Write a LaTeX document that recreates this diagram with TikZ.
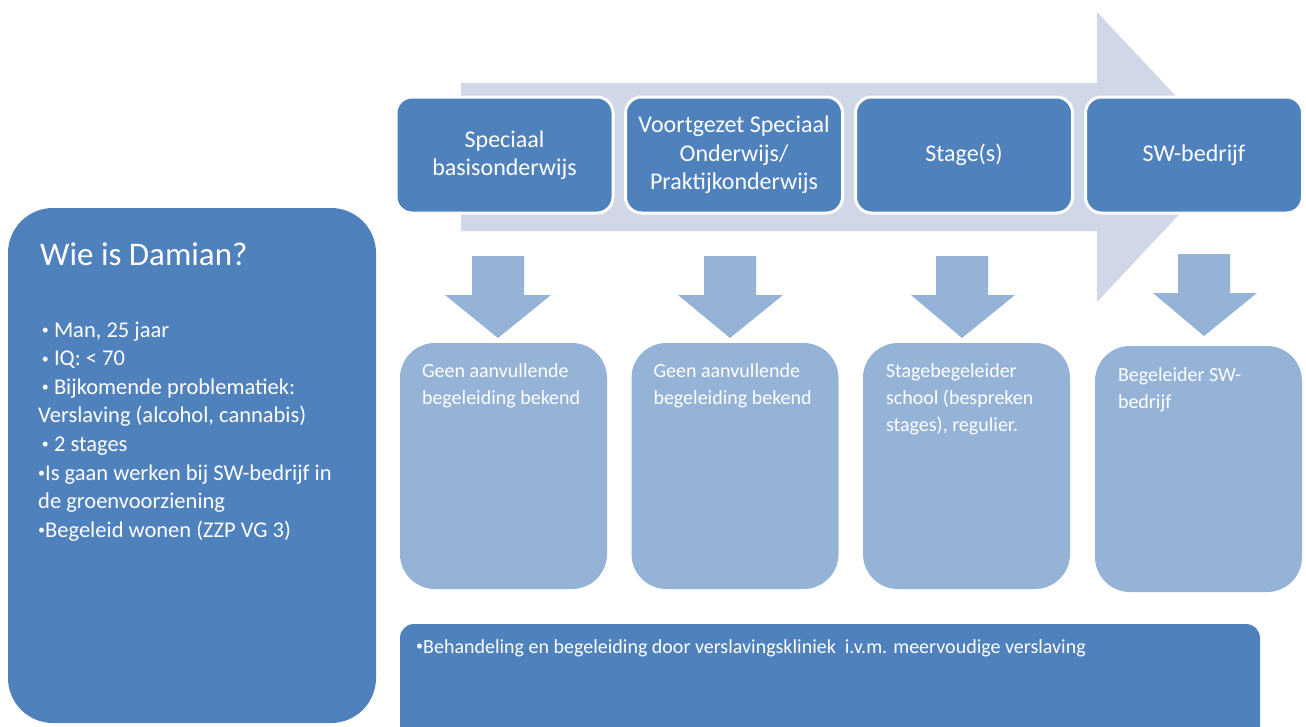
\documentclass[tikz,border=0pt]{standalone}
\usepackage{fontspec}
\setmainfont{Carlito}
\usetikzlibrary{calc}
\definecolor{dark}{HTML}{4F81BD}
\definecolor{light}{HTML}{95B3D7}
\definecolor{pale}{HTML}{D0D8E8}
\newcommand{\tlines}[1]{\begin{tabular}[t]{@{}l@{}}#1\end{tabular}}
\newcommand{\sbul}{{\fontsize{14}{14}\selectfont\raisebox{0.18em}{•}}}
\begin{document}
\begin{tikzpicture}[x=1pt,y=-1pt,
  topbox/.style={draw=white, line width=3pt, fill=dark, rounded corners=16pt,
    minimum width=217pt, minimum height=116pt, text=white, align=center,
    font=\fontsize{24}{28.5}\selectfont, inner sep=0pt},
  lowbox/.style={fill=light, rounded corners=35pt, minimum width=207pt,
    minimum height=246pt, inner sep=0pt},
  lowtext/.style={anchor=base west, text=white, inner sep=0pt,
    font=\fontsize{20}{27}\selectfont},
  downarrow/.style={fill=light}]
\useasboundingbox (0,0) rectangle (1306,726);
\clip (0,0) rectangle (1306,726);
\fill[white] (0,0) rectangle (1306,726);

% big background arrow
\fill[pale] (461,83) -- (1097,83) -- (1097,12) -- (1233,157) -- (1097,302) -- (1097,231) -- (461,231) -- cycle;

% left box
\node[fill=dark, rounded corners=45pt, minimum width=368pt, minimum height=515pt, inner sep=0pt] (who) at (192,465.5) {};
\node[anchor=base west, text=white, inner sep=0pt, font=\fontsize{33}{40}\selectfont] (whot) at (40,265) {Wie is Damian?};
\node[anchor=base west, text=white, inner sep=0pt, font=\fontsize{22.5}{28.6}\selectfont] (whol) at (38,337)
 {\tlines{\,\sbul\ Man, 25 jaar\\
  \,\sbul\ IQ: < 70\\
  \,\sbul\ Bijkomende problematiek:\\
  Verslaving (alcohol, cannabis)\\
  \,\sbul\ 2 stages\\
  \sbul Is gaan werken bij SW-bedrijf in\\
  de groenvoorziening\\
  \sbul Begeleid wonen (ZZP VG 3)}};

% top boxes
\node[topbox] (t1) at (504.5,155) {Speciaal\\basisonderwijs};
\node[topbox] (t2) at (734,155) {Voortgezet Speciaal\\Onderwijs/\\Praktijkonderwijs};
\node[topbox] (t3) at (964,155) {Stage(s)};
\node[topbox] (t4) at (1194,155) {SW-bedrijf};

% down arrows
\fill[downarrow] (472,256) -- (524,256) -- (524,295) -- (551,295) -- (498,338) -- (445,295) -- (472,295) -- cycle;
\fill[downarrow] (704,256) -- (756,256) -- (756,295) -- (783,295) -- (730,338) -- (678,295) -- (704,295) -- cycle;
\fill[downarrow] (936,256) -- (988,256) -- (988,295) -- (1015,295) -- (962,338) -- (911,295) -- (936,295) -- cycle;
\fill[downarrow] (1178,254) -- (1230,254) -- (1230,293) -- (1257,293) -- (1204,336) -- (1153,293) -- (1178,293) -- cycle;

% lower boxes
\node[lowbox] (l1) at (503.5,466) {};
\node[lowbox] (l2) at (735,466) {};
\node[lowbox] (l3) at (966.5,466) {};
\node[lowbox] (l4) at (1198.5,469) {};
\node[lowtext] (l1t) at ($(l1.north west)+(22,35)$) {\tlines{Geen aanvullende\\begeleiding bekend}};
\node[lowtext] (l2t) at ($(l2.north west)+(22,35)$) {\tlines{Geen aanvullende\\begeleiding bekend}};
\node[lowtext] (l3t) at ($(l3.north west)+(23,35)$) {\tlines{Stagebegeleider\\school (bespreken\\stages), regulier.}};
\node[lowtext] (l4t) at ($(l4.north west)+(23,36)$) {\tlines{Begeleider SW-\\bedrijf}};

% bottom box
\node[fill=dark, rounded corners=14pt, minimum width=860pt, minimum height=160pt, inner sep=0pt] (bot) at (830,704) {};
\node[anchor=base west, text=white, inner sep=0pt, font=\fontsize{20}{24}\selectfont] (bott) at (416,653)
 {\sbul Behandeling en begeleiding door verslavingskliniek\ \ i.v.m. meervoudige verslaving};
\end{tikzpicture}
\end{document}
